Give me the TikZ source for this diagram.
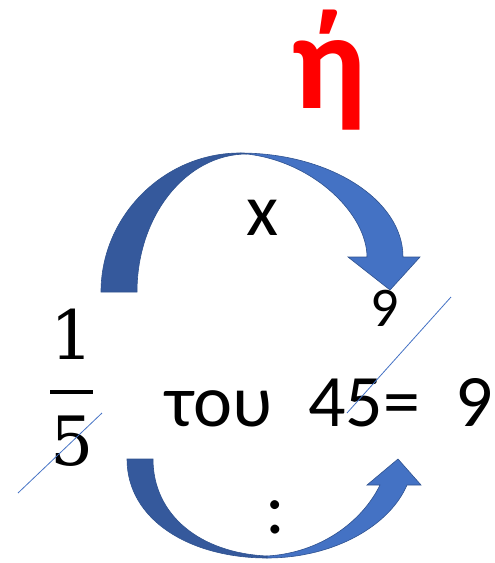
\documentclass[tikz,border=0pt]{standalone}
\usepackage{fontspec}
\setmainfont{Carlito}
\newfontfamily\fracfont{DejaVu Serif}
\usepackage{xcolor}
\usetikzlibrary{positioning}
\definecolor{arrowdark}{HTML}{35599C}
\definecolor{arrowlight}{HTML}{4472C4}
\definecolor{arrowedge}{HTML}{2F528F}
\definecolor{strikeblue}{HTML}{4472C4}
\tikzset{
  txt/.style={inner sep=0pt, anchor=base west, font=\fontsize{74}{74}\selectfont},
  smalltxt/.style={inner sep=0pt, anchor=base west, font=\fontsize{56}{56}\selectfont},
  fracnum/.style={inner sep=0pt, anchor=base, font=\fracfont\fontsize{68}{68}\selectfont},
  orword/.style={inner sep=0pt, anchor=base, text=red,
                 font=\bfseries\fontsize{138}{138}\selectfont},
  backband/.style={fill=arrowdark, draw=arrowedge, line width=0.6pt},
  frontband/.style={fill=arrowlight, draw=arrowedge, line width=0.6pt},
  strike/.style={draw=strikeblue, line width=0.8pt}
}
\begin{document}
\begin{tikzpicture}[x=1pt,y=-1pt]
  \useasboundingbox (0,0) rectangle (495,563);

  % upper arrow (x)
  \path[backband] (101,292) -- (137,292) .. controls (137,216) and (186,154) .. (247,154)
    -- (240,153) .. controls (164,153) and (101,216) .. (101,292) -- cycle;
  \path[frontband] (240,153) .. controls (330,153) and (403,200) .. (403,257)
    -- (420,257) -- (390,290) -- (348,257) -- (367,257)
    .. controls (367,215) and (315,162) .. (247,154) -- cycle;

  % lower arrow (:)
  \path[backband] (127,459) -- (153,459) .. controls (153,515) and (200,553) .. (267,556)
    -- (267,558) .. controls (190,558) and (127,520) .. (127,459) -- cycle;
  \path[frontband] (267,558) .. controls (335,558) and (390,525) .. (407,485)
    -- (421,485) -- (398,459) -- (367,485) -- (380,485)
    .. controls (362,522) and (320,553) .. (267,556) -- cycle;

  % fraction
  \node[fracnum] (num) at (72,359) {1};
  \node[fracnum] (den) at (72,465) {5};
  \draw[line width=4pt] (50,392) -- (93,392);

  % texts
  \node[orword] (or) at (329,108) {ή};
  \node[txt] (times) at (246,235) {x};
  \node[smalltxt] (nine) at (370,326) {9};
  \node[txt] (tou) at (165,426) {του};
  \node[txt] (expr) at (308,426) {45=};
  \node[txt] (res) at (455,426) {9};
  \node[txt, anchor=base] (div) at (275,533) {:};

  % cancel lines
  \draw[strike] (18,493) -- (102,413);
  \draw[strike] (347,413) -- (451,297);
\end{tikzpicture}
\end{document}
